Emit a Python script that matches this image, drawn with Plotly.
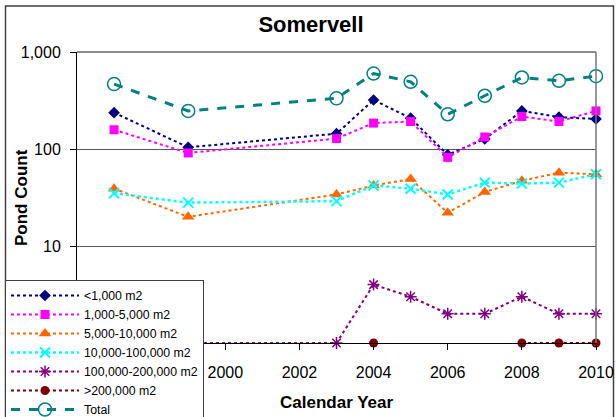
import plotly.graph_objects as go

years = [1997, 1999, 2003, 2004, 2005, 2006, 2007, 2008, 2009, 2010]
lt_1000 = [237, 104, 144, 320, 208, 87, 127, 247, 213, 204]
s_1000_5000 = [158, 91, 128, 185, 192, 82, 133, 216, 192, 247]
s_5000_10000 = [39, 20, 34, 42, 49, 22, 36, 47, 57, 55]
s_10000_100000 = [35, 28, 29, 42, 39, 34, 45, 44, 45, 55]
s_100000_200000 = [1, 1, 1, 4, 3, 2, 2, 3, 2, 2]
gt_200000 = [None, None, None, 1, None, None, None, 1, 1, 1]
total = [467, 247, 333, 600, 493, 228, 354, 546, 505, 564]

series_names = ["<1,000 m2", "1,000-5,000 m2", "5,000-10,000 m2", "10,000-100,000 m2",
                "100,000-200,000 m2", ">200,000 m2", "Total"]
x_ticks = [1996, 1998, 2000, 2002, 2004, 2006, 2008, 2010]
y_ticks = [1, 10, 100, 1000]
y_tick_text = ["1", "10", "100", "1,000"]

FONT = "Liberation Sans, Arial, sans-serif"

styles = [
    dict(color="#000080", symbol="diamond", size=9, dash="dot", width=2, lw=0),
    dict(color="#FF00FF", symbol="square", size=9, dash="dot", width=2, lw=0),
    dict(color="#FF6600", symbol="triangle-up", size=11, dash="dot", width=2, lw=0),
    dict(color="#00FFFF", symbol="x-thin", size=10, dash="dot", width=2.5, lw=2),
    dict(color="#800080", symbol="asterisk", size=10, dash="dot", width=2, lw=1.5),
    dict(color="#800000", symbol="circle", size=9, dash="dot", width=2, lw=0),
    dict(color="#008080", symbol="circle-open", size=13, dash="dash", width=3, lw=1.5),
]
data = [lt_1000, s_1000_5000, s_5000_10000, s_10000_100000, s_100000_200000, gt_200000, total]

fig = go.Figure()
for name, vals, st in zip(series_names, data, styles):
    fig.add_trace(go.Scatter(
        x=years, y=vals, name=name, mode="lines+markers",
        line=dict(color=st["color"], dash=st["dash"], width=st["width"]),
        marker=dict(symbol=st["symbol"], size=st["size"], color=st["color"],
                    line=dict(color=st["color"], width=st["lw"])),
        connectgaps=False, cliponaxis=False,
    ))

W, H = 616, 417
# plot area in page pixels
PL, PR, PT, PB = 77, 596, 52, 343
L, T, R, B = PL, PT, W - PR, H - PB
pw, ph = PR - PL, PB - PT

def px(xp):
    return (xp - PL) / pw

def py(yp):
    return (PB - yp) / ph

fig.update_layout(
    width=W, height=H,
    margin=dict(l=L, r=R, t=T, b=B, autoexpand=False),
    paper_bgcolor="white", plot_bgcolor="white",
    font=dict(family=FONT, size=16, color="black"),
    title=dict(text="<b>Somervell</b>", x=311 / W, xref="container", xanchor="center",
               y=1 - 24 / H, yref="container", yanchor="middle",
               font=dict(family=FONT, size=22, color="black")),
    showlegend=True,
    legend=dict(x=px(5), y=py(280), xanchor="left", yanchor="top",
                bgcolor="white", bordercolor="#404040", borderwidth=1,
                font=dict(family=FONT, size=12.3, color="black"),
                traceorder="normal", itemwidth=68),
    xaxis=dict(range=[1996, 2010], tickmode="array", tickvals=x_ticks,
               ticktext=[str(v) for v in x_ticks],
               showgrid=False, zeroline=False, showline=True, linecolor="black", linewidth=1,
               ticks="outside", ticklen=6, tickcolor="black", ticklabelstandoff=9,
               tickfont=dict(family=FONT, size=16, color="black")),
    yaxis=dict(type="log", range=[0, 3], tickmode="array", tickvals=y_ticks,
               ticktext=y_tick_text,
               showgrid=True, gridcolor="#555555", gridwidth=1, zeroline=False,
               showline=True, linecolor="black", linewidth=1,
               ticks="outside", ticklen=6, tickcolor="black", ticklabelstandoff=6,
               tickfont=dict(family=FONT, size=16, color="black")),
    annotations=[
        dict(text="<b>Pond Count</b>", xref="paper", yref="paper", x=px(21), y=py(198),
             textangle=-90, showarrow=False, xanchor="center", yanchor="middle",
             font=dict(family=FONT, size=17, color="black")),
        dict(text="<b>Calendar Year</b>", xref="paper", yref="paper", x=0.5, y=py(402),
             showarrow=False, xanchor="center", yanchor="middle",
             font=dict(family=FONT, size=17, color="black")),
    ],
    shapes=[
        dict(type="line", xref="paper", yref="paper", x0=0, x1=1, y0=1, y1=1,
             line=dict(color="#666666", width=1.5)),
        dict(type="line", xref="paper", yref="paper", x0=1, x1=1, y0=0, y1=1,
             line=dict(color="#777777", width=1.5)),
        dict(type="rect", xref="paper", yref="paper", x0=px(5.5), x1=px(613.5),
             y0=py(440), y1=py(6), line=dict(color="#404040", width=1.5),
             fillcolor="rgba(0,0,0,0)", layer="below"),
    ],
)

fig.write_html("out.html", config={"displayModeBar": False},
               post_script="document.body.style.margin='0';")
